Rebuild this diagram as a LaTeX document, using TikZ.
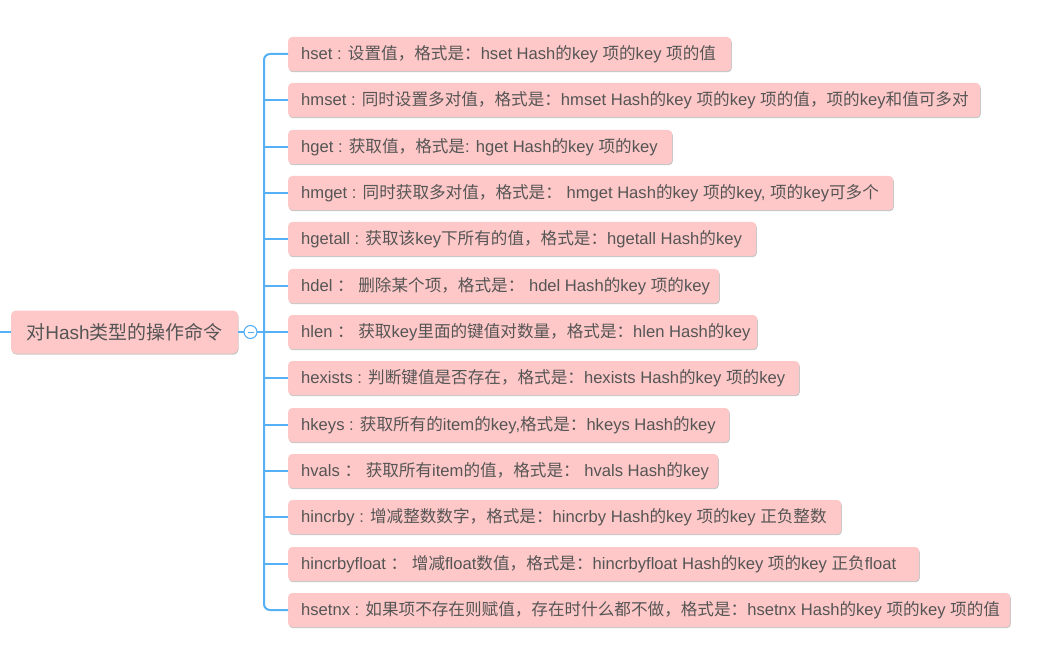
\documentclass[tikz,border=0pt]{standalone}
\usepackage{fontspec}
\setmainfont{Liberation Sans}
\newfontfamily\cjkf{Noto Sans CJK SC}
\XeTeXinterchartokenstate=1
\chardef\mycjkcls=7
\count255="3000
\loop \XeTeXcharclass\count255=\mycjkcls \ifnum\count255<"303F \advance\count255 by 1 \repeat
\count255="4E00
\loop \XeTeXcharclass\count255=\mycjkcls \ifnum\count255<"9FFF \advance\count255 by 1 \repeat
\count255="FF00
\loop \XeTeXcharclass\count255=\mycjkcls \ifnum\count255<"FFEF \advance\count255 by 1 \repeat
\XeTeXinterchartoks 0 \mycjkcls = {\begingroup\cjkf}
\XeTeXinterchartoks 4095 \mycjkcls = {\begingroup\cjkf}
\XeTeXinterchartoks \mycjkcls 0 = {\endgroup}
\XeTeXinterchartoks \mycjkcls 4095 = {\endgroup}
\usetikzlibrary{shadows}
\definecolor{pinkf}{HTML}{FFC8C8}
\definecolor{txtc}{HTML}{555555}
\definecolor{connc}{HTML}{55B0F5}
\begin{document}
\begin{tikzpicture}[x=1pt,y=-1pt,
  leaf/.style={fill=pinkf, rounded corners=4pt, anchor=west, minimum height=34pt,
    inner xsep=13pt, inner ysep=0pt, text=txtc, font=\fontsize{16.6}{19}\selectfont,
    drop shadow={shadow xshift=0.6pt, shadow yshift=-1.2pt, opacity=0.22, fill=black}},
  rootbox/.style={fill=pinkf, rounded corners=5pt, minimum width=227pt, minimum height=43pt,
    inner sep=0pt, text=txtc, font=\fontsize{19}{22}\selectfont,
    drop shadow={shadow xshift=0.6pt, shadow yshift=-1.2pt, opacity=0.22, fill=black}},
  connline/.style={draw=connc, line width=2pt}
]
\useasboundingbox (0,0) rectangle (1058,663);
\fill[white] (0,0) rectangle (1058,663);

\node[rootbox] (root) at (124.5,332) {对Hash类型的操作命令};
\coordinate (lft) at (0,332);

\node[leaf] (n1)  at (288,54)  {\makebox[417pt][l]{hset : 设置值，格式是：hset Hash的key 项的key 项的值}};
\node[leaf] (n2)  at (288,100) {\makebox[666pt][l]{hmset : 同时设置多对值，格式是：hmset Hash的key 项的key 项的值，项的key和值可多对}};
\node[leaf] (n3)  at (288,147) {\makebox[358pt][l]{hget : 获取值，格式是: hget Hash的key 项的key}};
\node[leaf] (n4)  at (288,193) {\makebox[579pt][l]{hmget : 同时获取多对值，格式是： hmget Hash的key 项的key, 项的key可多个}};
\node[leaf] (n5)  at (288,239) {\makebox[442pt][l]{hgetall : 获取该key下所有的值，格式是：hgetall Hash的key}};
\node[leaf] (n6)  at (288,286) {\makebox[405pt][l]{hdel ： 删除某个项，格式是： hdel Hash的key 项的key}};
\node[leaf] (n7)  at (288,332) {\makebox[443pt][l]{hlen ： 获取key里面的键值对数量，格式是：hlen Hash的key}};
\node[leaf] (n8)  at (288,378) {\makebox[485pt][l]{hexists : 判断键值是否存在，格式是：hexists Hash的key 项的key}};
\node[leaf] (n9)  at (288,425) {\makebox[415pt][l]{hkeys : 获取所有的item的key,格式是：hkeys Hash的key}};
\node[leaf] (n10) at (288,471) {\makebox[404pt][l]{hvals ： 获取所有item的值，格式是： hvals Hash的key}};
\node[leaf] (n11) at (288,517) {\makebox[527pt][l]{hincrby : 增减整数数字，格式是：hincrby Hash的key 项的key 正负整数}};
\node[leaf] (n12) at (288,564) {\makebox[605pt][l]{hincrbyfloat ： 增减float数值，格式是：hincrbyfloat Hash的key 项的key 正负float}};
\node[leaf] (n13) at (288,610) {\makebox[696pt][l]{hsetnx : 如果项不存在则赋值，存在时什么都不做，格式是：hsetnx Hash的key 项的key 项的值}};

\coordinate (tt) at (264,54);
\coordinate (tb) at (264,610);

\draw[connline] (lft) -- (root.west);
\draw[connline] (root.east) -- (tt |- root.east);
\node[circle, draw=connc, line width=1.1pt, fill=white, minimum size=13pt, inner sep=0pt] (cc) at (250.5,332) {};
\draw[draw=connc, line width=1pt] ([xshift=-3pt]cc.center) -- ([xshift=3pt]cc.center);

\draw[connline, rounded corners=6pt] (n1.west) -- (tt) -- (tb) -- (n13.west);
\foreach \i in {2,...,12} {
  \draw[connline] (tt |- n\i.west) -- (n\i.west);
}
\end{tikzpicture}
\end{document}
